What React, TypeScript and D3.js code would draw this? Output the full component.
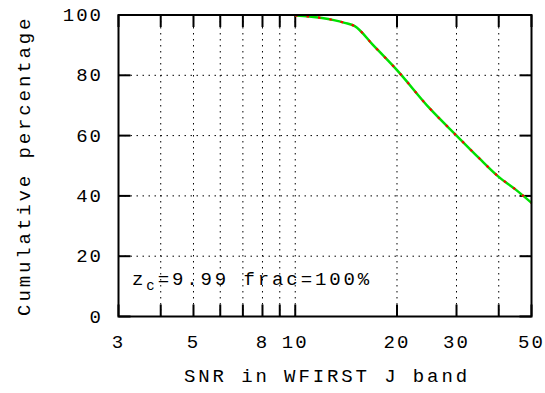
import React from "react";
import * as d3 from "d3";

const snr = [9.99, 11, 12, 13, 14, 15, 17, 20, 25, 30, 35, 40, 45, 50];
const cumPct = [99.8, 99.5, 99.0, 98.3, 97.4, 96.3, 90.0, 81.7, 69.0, 60.0, 52.5, 46.3, 42.0, 37.7];
const xTickValues = [3, 4, 5, 6, 7, 8, 9, 10, 20, 30, 40, 50];
const xTickLabels = ["3", "", "5", "", "", "8", "", "10", "20", "30", "", "50"];
const yTickValues = [0, 20, 40, 60, 80, 100];
const xLabel = "SNR in WFIRST J band";
const yLabel = "Cumulative percentage";

const W = 545, H = 393;
const L = 118.5, R = 531.5, T = 15, B = 316.5;
const font = "'Liberation Mono', 'DejaVu Sans Mono', monospace";

export default function App() {
  const x = d3.scaleLog().domain([3, 50]).range([L, R]);
  const y = d3.scaleLinear().domain([0, 100]).range([B, T]);
  const line = d3.line<number>().x((_, i) => x(snr[i])).y((d) => y(d)).curve(d3.curveMonotoneX);
  const path = line(cumPct) || "";
  const tick = 12;
  return (
    <svg width={W} height={H} style={{ position: "absolute", left: 0, top: 0 }}>
      <rect width={W} height={H} fill="white" />
      {/* grid */}
      {xTickValues.filter((v) => v !== 3 && v !== 50).map((v) => (
        <line key={"gx" + v} x1={x(v)} x2={x(v)} y1={T} y2={B} stroke="#000" strokeWidth={1} strokeDasharray="1.5,4.5" />
      ))}
      {yTickValues.filter((v) => v !== 0 && v !== 100).map((v) => (
        <line key={"gy" + v} x1={L} x2={R} y1={y(v)} y2={y(v)} stroke="#000" strokeWidth={1} strokeDasharray="1.5,4.5" />
      ))}
      {/* ticks */}
      {xTickValues.map((v) => (
        <g key={"tx" + v}>
          <line x1={x(v)} x2={x(v)} y1={B} y2={B - tick} stroke="#000" strokeWidth={2} />
          <line x1={x(v)} x2={x(v)} y1={T} y2={T + tick} stroke="#000" strokeWidth={2} />
        </g>
      ))}
      {yTickValues.map((v) => (
        <g key={"ty" + v}>
          <line x1={L} x2={L + tick} y1={y(v)} y2={y(v)} stroke="#000" strokeWidth={2} />
          <line x1={R} x2={R - tick} y1={y(v)} y2={y(v)} stroke="#000" strokeWidth={2} />
        </g>
      ))}
      {/* curve */}
      <path d={path} fill="none" stroke="#00e000" strokeWidth={2.5} />
      <path d={path} fill="none" stroke="#ff0000" strokeWidth={2.2} strokeDasharray="2.5,9" />
      {/* frame */}
      <rect x={L} y={T} width={R - L} height={B - T} fill="none" stroke="#000" strokeWidth={2} />
      {/* tick labels */}
      {xTickValues.map((v, i) => xTickLabels[i] ? (
        <text key={"lx" + v} x={x(v)} y={348} textAnchor="middle" fontFamily={font} fontSize={19} letterSpacing={2}>{xTickLabels[i]}</text>
      ) : null)}
      {yTickValues.map((v) => (
        <text key={"ly" + v} x={103} y={y(v) + 6} textAnchor="end" fontFamily={font} fontSize={19} letterSpacing={2}>{String(v)}</text>
      ))}
      <text x={132} y={285} fontFamily={font} fontSize={19} letterSpacing={2.9}>
        z<tspan fontSize={14} dy={5}>c</tspan><tspan dy={-5}>=9.99 frac=100%</tspan>
      </text>
      <text x={(L + R) / 2 + 2} y={382} textAnchor="middle" fontFamily={font} fontSize={19} letterSpacing={2.9}>{xLabel}</text>
      <text transform={`translate(30,${(T + B) / 2}) rotate(-90)`} textAnchor="middle" fontFamily={font} fontSize={19} letterSpacing={2.9}>{yLabel}</text>
    </svg>
  );
}
